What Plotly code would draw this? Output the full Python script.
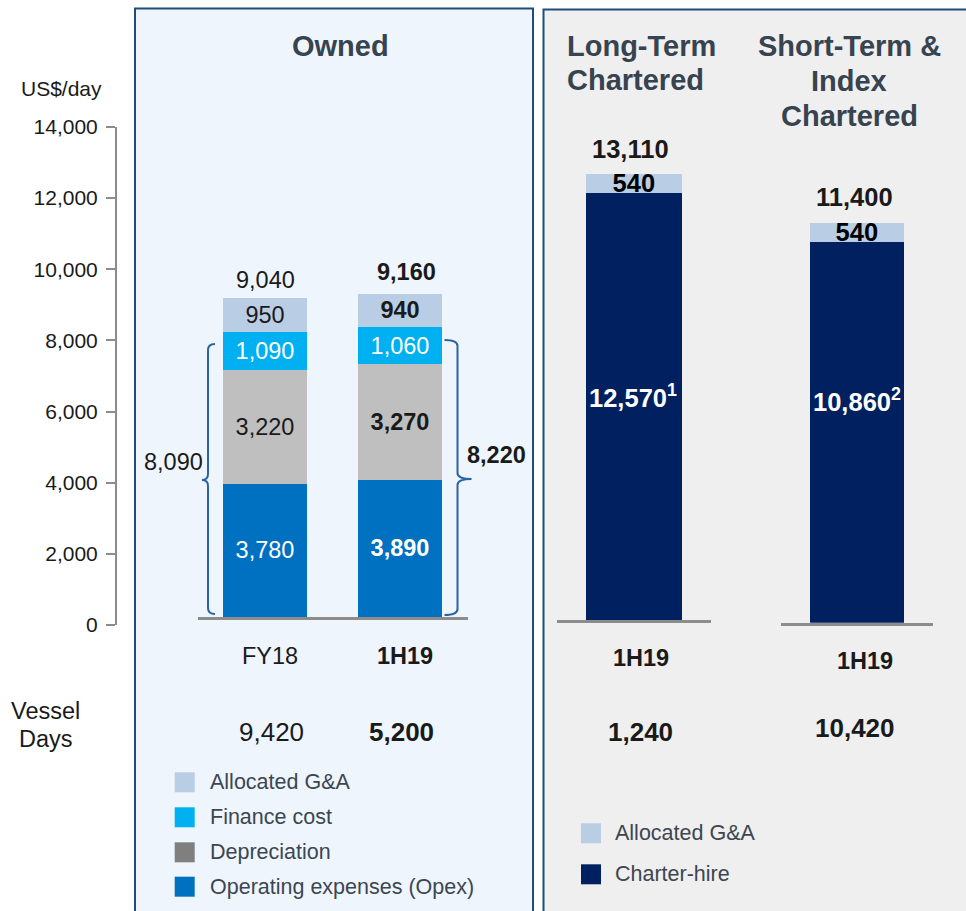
import plotly.graph_objects as go

W, H = 966, 911
FONT = "Liberation Sans, Arial, sans-serif"
TITLE_COLOR = "#37434F"
LEG_COLOR = "#3C4651"
TXT = "#1a1a1a"

# ---------------- data ----------------
owned_categories = ["FY18", "1H19"]
owned_bold = [False, True]
opex = [3780, 3890]
depreciation = [3220, 3270]
finance_cost = [1090, 1060]
ga_owned = [950, 940]
vessel_days_owned = [9420, 5200]

lt_categories = ["1H19"]
charter_hire_lt = [12570]
ga_lt = [540]
vessel_days_lt = [1240]
footnote_lt = ["1"]

st_categories = ["1H19"]
charter_hire_st = [10860]
ga_st = [540]
vessel_days_st = [10420]
footnote_st = ["2"]

y_tick_values = [0, 2000, 4000, 6000, 8000, 10000, 12000, 14000]

# colours
C_GA = "#B9CDE5"
C_FIN = "#00B0F0"
C_DEP = "#BFBFBF"
C_DEP_LEG = "#7F7F7F"
C_OPEX = "#0070C0"
C_CH = "#002060"


def X(px):
    return px / W


def Y(py):
    return 1 - py / H


def fmt(v, bold=False):
    s = f"{v:,}"
    return f"<b>{s}</b>" if bold else s


fig = go.Figure()

# hidden trace to carry the visible value axis
fig.add_trace(go.Scatter(x=[0], y=[0], xaxis="x", yaxis="y", mode="markers",
                         marker=dict(opacity=0), hoverinfo="skip", showlegend=False))


def owned_bar(vals, color, tcolor, bold_flags):
    return go.Bar(
        x=owned_categories, y=vals, xaxis="x2", yaxis="y2",
        marker=dict(color=color, line=dict(width=0)),
        text=[fmt(v, b) for v, b in zip(vals, bold_flags)],
        textposition="inside", insidetextanchor="middle", constraintext="none",
        textangle=0,
        textfont=dict(family=FONT, size=23.5, color=tcolor),
        hoverinfo="skip", showlegend=False,
    )


fig.add_trace(owned_bar(opex, C_OPEX, "white", owned_bold))
fig.add_trace(owned_bar(depreciation, C_DEP, TXT, owned_bold))
fig.add_trace(owned_bar(finance_cost, C_FIN, "white", [False, False]))
fig.add_trace(owned_bar(ga_owned, C_GA, TXT, owned_bold))

for cats, ch, ga, xa, ya in [(lt_categories, charter_hire_lt, ga_lt, "x3", "y3"),
                             (st_categories, charter_hire_st, ga_st, "x4", "y4")]:
    fig.add_trace(go.Bar(x=cats, y=ch, xaxis=xa, yaxis=ya,
                         marker=dict(color=C_CH, line=dict(width=0)),
                         hoverinfo="skip", showlegend=False))
    fig.add_trace(go.Bar(x=cats, y=ga, xaxis=xa, yaxis=ya,
                         marker=dict(color=C_GA, line=dict(width=0)),
                         text=[fmt(v, True) for v in ga],
                         textposition="inside", insidetextanchor="middle",
                         constraintext="none", textangle=0,
                         textfont=dict(family=FONT, size=25.5, color="black"),
                         hoverinfo="skip", showlegend=False))

shapes = []
annotations = []


def ann(text, x, y, size, color=TXT, bold=False, xanchor="center", xref="paper",
        xshift=0, yref="paper", yanchor="middle", yshift=0):
    annotations.append(dict(
        text=f"<b>{text}</b>" if bold else text, x=x, y=y, xref=xref, yref=yref,
        xanchor=xanchor, yanchor=yanchor, xshift=xshift, yshift=yshift,
        showarrow=False, font=dict(family=FONT, size=size, color=color),
        align="left" if xanchor == "left" else "center"))


# panels
shapes.append(dict(type="rect", xref="paper", yref="paper", x0=X(135), x1=X(533),
                   y0=Y(925), y1=Y(8.5), fillcolor="#EEF5FD",
                   line=dict(color="#1F4E79", width=2), layer="below"))
shapes.append(dict(type="rect", xref="paper", yref="paper", x0=X(543.5), x1=X(990),
                   y0=Y(925), y1=Y(9.5), fillcolor="#EFEFEF",
                   line=dict(color="#1F4E79", width=2), layer="below"))

# titles
ann("Owned", X(340.5), Y(46), 29, TITLE_COLOR, True)
ann("Long-Term", X(565), Y(45.5), 29, TITLE_COLOR, True, xanchor="left")
ann("Chartered", X(565), Y(79.5), 29, TITLE_COLOR, True, xanchor="left")
ann("Short-Term &amp;", X(849), Y(45.5), 29, TITLE_COLOR, True)
ann("Index", X(849), Y(81), 29, TITLE_COLOR, True)
ann("Chartered", X(849), Y(116), 29, TITLE_COLOR, True)

# axis unit
ann("US$/day", X(61.5), Y(88), 21)

# totals above bars
owned_totals = [a + b + c + d for a, b, c, d in zip(opex, depreciation, finance_cost, ga_owned)]
for cat, tot, b, xs, ys in zip(owned_categories, owned_totals, owned_bold, [0, 6.5], [18, 22]):
    ann(fmt(tot, b), cat, tot, 23.5, TXT, False, xref="x2", yref="y2",
        xshift=xs, yshift=ys)
for cats, ch, ga, xa, ya, xs in [(lt_categories, charter_hire_lt, ga_lt, "x3", "y3", -3),
                                 (st_categories, charter_hire_st, ga_st, "x4", "y4", -2.5)]:
    for cat, c, g in zip(cats, ch, ga):
        ann(fmt(c + g, True), cat, c + g, 25.5, TXT, False, xref=xa, yref=ya,
            xshift=xs, yshift=25.5)

# charter-hire labels inside bars
ann(f"{charter_hire_lt[0]:,}<sup>{footnote_lt[0]}</sup>", lt_categories[0], Y(396),
    25.5, "white", True, xref="x3", xshift=-1)
ann(f"{charter_hire_st[0]:,}<sup>{footnote_st[0]}</sup>", st_categories[0], Y(400),
    25.5, "white", True, xref="x4", xshift=0)

# category labels
for cat, b, xs in zip(owned_categories, owned_bold, [4.6, 4.5]):
    ann(cat, cat, Y(656), 23.5, TXT, b, xref="x2", xshift=xs)
ann(lt_categories[0], lt_categories[0], Y(657.5), 23.5, TXT, True, xref="x3", xshift=7.3)
ann(st_categories[0], st_categories[0], Y(661), 23.5, TXT, True, xref="x4", xshift=8.3)

# vessel days
ann("Vessel", X(45.8), Y(711), 23.5)
ann("Days", X(45.8), Y(739), 23.5)
for cat, v, b, xs in zip(owned_categories, vessel_days_owned, owned_bold, [6, 1]):
    ann(fmt(v, b), cat, Y(732), 26, TXT, False, xref="x2", xshift=xs)
ann(fmt(vessel_days_lt[0], True), lt_categories[0], Y(731.7), 26, TXT, False, xref="x3", xshift=7)
ann(fmt(vessel_days_st[0], True), st_categories[0], Y(728), 26, TXT, False, xref="x4", xshift=-1.5)


# braces
def brace(xs, yt, yb, ytip, d, hook, tip, color="#2A62A6"):
    def p(x, y):
        return f"{X(x)},{Y(y)}"
    r = 6
    path = (f"M {p(xs - d*hook, yt)} Q {p(xs, yt)} {p(xs, yt + r)} "
            f"L {p(xs, ytip - r)} Q {p(xs, ytip)} {p(xs + d*tip, ytip)} "
            f"Q {p(xs, ytip)} {p(xs, ytip + r)} "
            f"L {p(xs, yb - r)} Q {p(xs, yb)} {p(xs - d*hook, yb)}")
    shapes.append(dict(type="path", xref="paper", yref="paper", path=path,
                       line=dict(color=color, width=2)))


brace(208, 344, 614, 480, -1, 7, 6)
brace(457.5, 340, 615, 479, 1, 13, 14)
sub_totals = [a + b + c for a, b, c in zip(opex, depreciation, finance_cost)]
ann(fmt(sub_totals[0], owned_bold[0]), X(173), Y(461.7), 23.5)
ann(fmt(sub_totals[1], owned_bold[1]), X(496.7), Y(455), 23.5)

# legends (drawn manually)
owned_legend = [("Allocated G&amp;A", C_GA), ("Finance cost", C_FIN),
                ("Depreciation", C_DEP_LEG), ("Operating expenses (Opex)", C_OPEX)]
for (label, col), yc in zip(owned_legend, [782.3, 817.3, 852.3, 886.7]):
    shapes.append(dict(type="rect", xref="paper", yref="paper", x0=X(174.7), x1=X(194.7),
                       y0=Y(yc + 10), y1=Y(yc - 10), fillcolor=col, line=dict(width=0)))
    ann(label, X(207.6), Y(yc), 21.5, LEG_COLOR, xanchor="left")
ch_legend = [("Allocated G&amp;A", C_GA), ("Charter-hire", C_CH)]
for (label, col), yc in zip(ch_legend, [833.3, 874.3]):
    shapes.append(dict(type="rect", xref="paper", yref="paper", x0=X(581), x1=X(601),
                       y0=Y(yc + 10), y1=Y(yc - 10), fillcolor=col, line=dict(width=0)))
    ann(label, X(612.7), Y(yc), 21.5, LEG_COLOR, xanchor="left")

hidden = dict(visible=False, automargin=False)
base_line = dict(showline=True, linecolor="#8C8C8C", linewidth=3, showticklabels=False,
                 ticks="", showgrid=False, zeroline=False, type="category", fixedrange=True,
                 automargin=False)

fig.update_layout(
    template="none",
    width=W, height=H, autosize=False,
    margin=dict(l=0, r=0, t=0, b=0, pad=0, autoexpand=False),
    paper_bgcolor="white", plot_bgcolor="rgba(0,0,0,0)",
    barmode="stack", bargap=0.38,
    showlegend=False,
    font=dict(family=FONT, color=TXT),
    xaxis=dict(domain=[X(117), X(130)], range=[0, 1], visible=False, anchor="y",
               automargin=False),
    yaxis=dict(domain=[Y(625), Y(127)], range=[0, 14000], anchor="x", side="left",
               tickvals=y_tick_values, ticktext=[f"{v:,}" for v in y_tick_values],
               showline=True, linecolor="#8C8C8C", linewidth=2,
               ticks="outside", ticklen=9, tickwidth=2, tickcolor="#8C8C8C",
               ticklabelstandoff=4, automargin=False,
               tickfont=dict(family=FONT, size=21, color=TXT),
               showgrid=False, zeroline=False),
    xaxis2=dict(domain=[X(197.5), X(467.5)], anchor="y2",
                categoryorder="array", categoryarray=owned_categories, **base_line),
    yaxis2=dict(domain=[Y(617), Y(123)], range=[0, 14000], anchor="x2", **hidden),
    xaxis3=dict(domain=[X(556.7), X(711)], anchor="y3",
                categoryorder="array", categoryarray=lt_categories, **base_line),
    yaxis3=dict(domain=[Y(620), Y(144)], range=[0, 14000], anchor="x3", **hidden),
    xaxis4=dict(domain=[X(781), X(932.7)], anchor="y4",
                categoryorder="array", categoryarray=st_categories, **base_line),
    yaxis4=dict(domain=[Y(622.7), Y(131.3)], range=[0, 14000], anchor="x4", **hidden),
    shapes=shapes,
    annotations=annotations,
)

fig.write_html(
    "out.html",
    config={"displayModeBar": False, "responsive": False},
    post_script="document.body.style.margin='0';document.body.style.overflow='hidden';",
)
